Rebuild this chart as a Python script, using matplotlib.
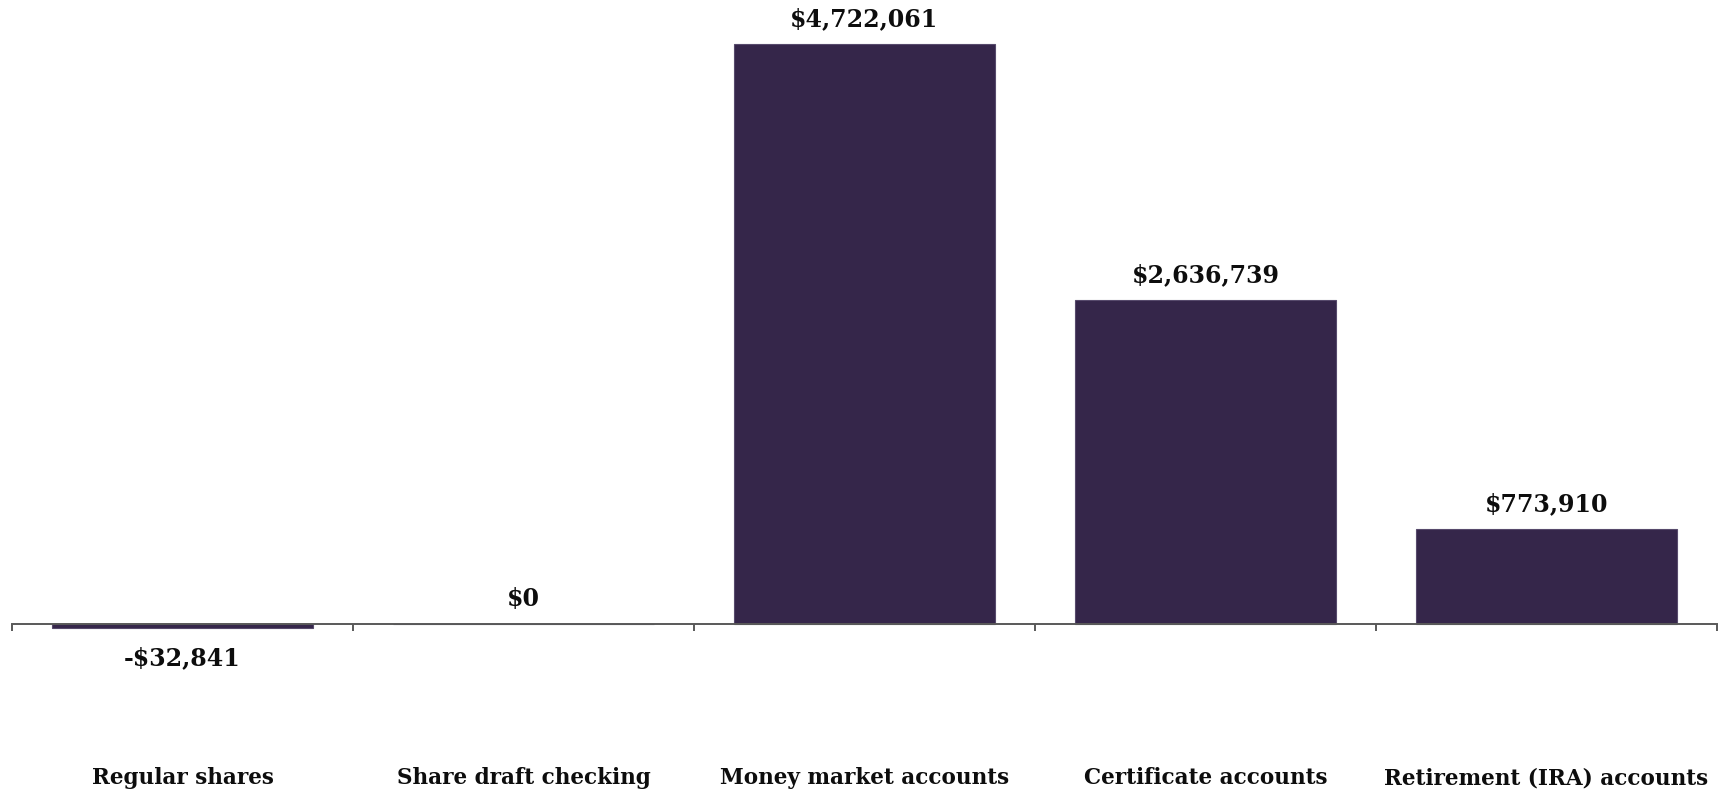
import matplotlib
matplotlib.use("Agg")
import matplotlib.pyplot as plt
import matplotlib.transforms as mtransforms
import numpy as np

categories = ["Regular shares", "Share draft checking", "Money market accounts",
              "Certificate accounts", "Retirement (IRA) accounts"]
values = [-32841, 0, 4722061, 2636739, 773910]
value_labels = ["-$32,841", "$0", "$4,722,061", "$2,636,739", "$773,910"]

BAR_COLOR = "#35264a"
FONT = ["DejaVu Serif"]

fig = plt.figure(figsize=(17.22, 7.92), dpi=100)
ax = fig.add_axes([12/1722, 100/792, 1705/1722, 692/792])

x = np.arange(len(categories))
ax.bar(x, values, width=0.765, color=BAR_COLOR, edgecolor="#574a6c", linewidth=0.8, zorder=2)

ax.set_xlim(-0.5, len(categories) - 0.5)
ax.set_ylim(-553600, 5080300)

for s in ["left", "right", "top"]:
    ax.spines[s].set_visible(False)
ax.spines["bottom"].set_position(("data", 0))
ax.spines["bottom"].set_color("#595959")
ax.spines["bottom"].set_linewidth(1.4)
ax.spines["bottom"].set_zorder(3)
ax.set_yticks([])

ax.set_xticks(np.arange(-0.5, len(categories)), minor=True)
ax.set_xticks([])
ax.tick_params(axis="x", which="minor", direction="out", length=5, width=1.4, color="#595959")

for xi, v, lab in zip(x, values, value_labels):
    off = 18 if v >= 0 else -22
    ax.annotate(lab, (xi, v), xytext=(0, off), textcoords="offset points",
                ha="center", va="center", fontsize=17, fontweight="bold",
                family=FONT, color="#0d0d0d")

trans = mtransforms.blended_transform_factory(ax.transData, fig.transFigure)
for xi, c in zip(x, categories):
    ax.text(xi, 1 - 778/792, c, transform=trans, ha="center", va="center",
            fontsize=15.5, fontweight="bold", family=FONT, color="#0d0d0d")

fig.savefig("out.png", dpi=100)
